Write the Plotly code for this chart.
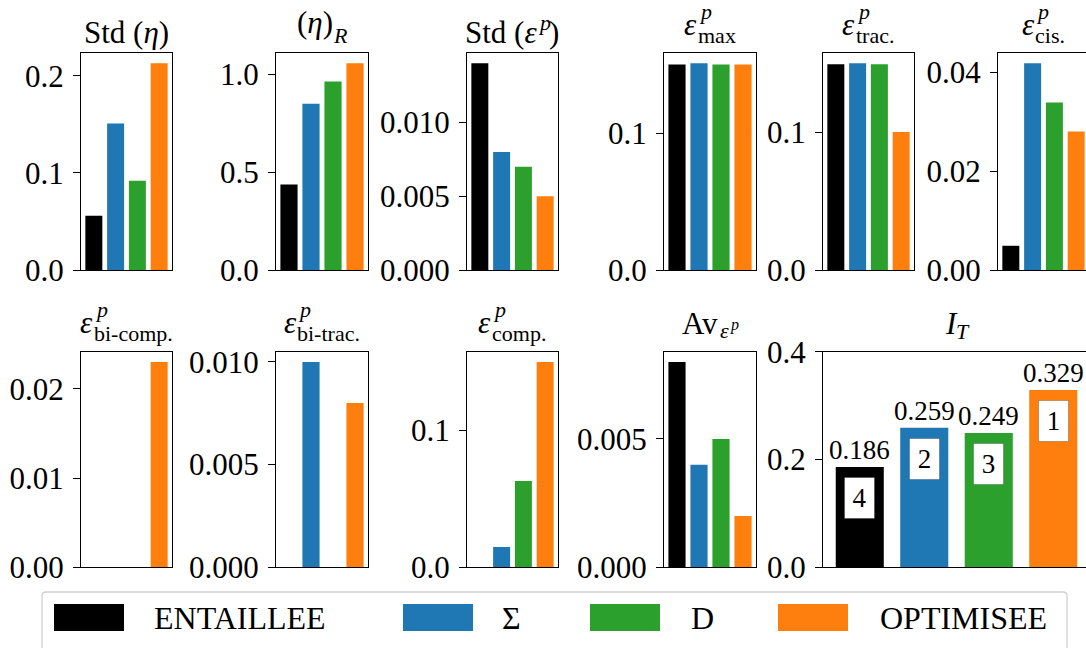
import plotly.graph_objects as go

# ---------------- data ----------------
series = ["ENTAILLEE", "Σ", "D", "OPTIMISEE"]
colors = ["#000000", "#1f77b4", "#2ca02c", "#ff7f0e"]
categories = [0, 1, 2, 3]

std_eta = [0.056, 0.151, 0.092, 0.213]
eta_R = [0.437, 0.849, 0.962, 1.055]
std_eps = [0.0140, 0.0080, 0.0070, 0.0050]
eps_max = [0.1503, 0.1511, 0.1503, 0.1503]
eps_trac = [0.1497, 0.1504, 0.1497, 0.1005]
eps_cis = [0.0049, 0.0418, 0.0339, 0.0280]
eps_bicomp = [0.0, 0.0, 0.0, 0.0230]
eps_bitrac = [0.0, 0.0100, 0.0, 0.0080]
eps_comp = [0.0, 0.0148, 0.0630, 0.1499]
av_eps = [0.0080, 0.0040, 0.0050, 0.0020]
I_T = [0.186, 0.259, 0.249, 0.329]
ranks = [4, 2, 3, 1]

ticks_std_eta = [0.0, 0.1, 0.2]
ticks_eta_R = [0.0, 0.5, 1.0]
ticks_std_eps = [0.0, 0.005, 0.010]
ticks_eps_max = [0.0, 0.1]
ticks_eps_trac = [0.0, 0.1]
ticks_eps_cis = [0.0, 0.02, 0.04]
ticks_eps_bicomp = [0.0, 0.01, 0.02]
ticks_eps_bitrac = [0.0, 0.005, 0.010]
ticks_eps_comp = [0.0, 0.1]
ticks_av_eps = [0.0, 0.005]
ticks_I_T = [0.0, 0.2, 0.4]

# ---------------- layout constants ----------------
W, H = 1086, 648
FONT = "'Liberation Serif', 'Times New Roman', Times, 'DejaVu Serif', serif"
TOP_ROW = (53.0, 270.0)
BOT_ROW = (351.7, 567.3)
COLS = [(81, 172), (276, 368), (467, 558), (664, 756), (823, 914), (998, 1089)]
WIDE = (823, 1090)

CW = {'S': .556, 't': .278, 'd': .5, ' ': .25, '(': .333, ')': .333, 'η': .5, 'ε': .44,
      'p': .5, 'R': .611, 'm': .778, 'a': .444, 'x': .5, 'r': .333, 'c': .444, '.': .25,
      'i': .278, 's': .389, 'b': .5, '-': .333, 'o': .5, 'A': .722, 'v': .5, 'I': .333,
      'T': .556}


def tw(s, size):
    return sum(CW.get(c, .5) for c in s) * size


def seg(html, plain, size, off):
    return ("t", html, plain, size, off)


def stack(sup, sub):
    return ("s", sup, sub)


titles = [
    [seg("Std (<i>η</i>)", "Std (η)", 31, 10)],
    [seg("(<i>η</i>)", "(η)", 31, 20), seg("<i>R</i>", "R", 22, 10)],
    [seg("Std (<i>ε</i>", "Std (ε", 31, 10), seg("<i>p</i>", "p", 22, 23), seg(")", ")", 31, 10)],
    [seg("<i>ε</i>", "ε", 31, 18), stack(seg("<i>p</i>", "p", 22, 34), seg("max", "max", 22, 10))],
    [seg("<i>ε</i>", "ε", 31, 18), stack(seg("<i>p</i>", "p", 22, 34), seg("trac.", "trac.", 22, 10))],
    [seg("<i>ε</i>", "ε", 31, 18), stack(seg("<i>p</i>", "p", 22, 34), seg("cis.", "cis.", 22, 10))],
    [seg("<i>ε</i>", "ε", 31, 18), stack(seg("<i>p</i>", "p", 22, 34), seg("bi-comp.", "bi-comp.", 22, 10))],
    [seg("<i>ε</i>", "ε", 31, 18), stack(seg("<i>p</i>", "p", 22, 34), seg("bi-trac.", "bi-trac.", 22, 10))],
    [seg("<i>ε</i>", "ε", 31, 18), stack(seg("<i>p</i>", "p", 22, 34), seg("comp.", "comp.", 22, 10))],
    [seg("Av", "Av", 31, 17), seg("<i>ε</i>", "ε", 22, 13), seg("<i>p</i>", "p", 16, 21)],
    [seg("<i>I</i>", "I", 31, 17), seg("<i>T</i>", "T", 22, 12)],
]

panels = [
    (std_eta, ticks_std_eta, "{:.1f}", TOP_ROW, COLS[0]),
    (eta_R, ticks_eta_R, "{:.1f}", TOP_ROW, COLS[1]),
    (std_eps, ticks_std_eps, "{:.3f}", TOP_ROW, COLS[2]),
    (eps_max, ticks_eps_max, "{:.1f}", TOP_ROW, COLS[3]),
    (eps_trac, ticks_eps_trac, "{:.1f}", TOP_ROW, COLS[4]),
    (eps_cis, ticks_eps_cis, "{:.2f}", TOP_ROW, COLS[5]),
    (eps_bicomp, ticks_eps_bicomp, "{:.2f}", BOT_ROW, COLS[0]),
    (eps_bitrac, ticks_eps_bitrac, "{:.3f}", BOT_ROW, COLS[1]),
    (eps_comp, ticks_eps_comp, "{:.1f}", BOT_ROW, COLS[2]),
    (av_eps, ticks_av_eps, "{:.3f}", BOT_ROW, COLS[3]),
    (I_T, ticks_I_T, "{:.1f}", BOT_ROW, WIDE),
]

fig = go.Figure()
layout = {}
annotations = []
shapes = []


def add_text(html, x_px, base_px, size, xanchor="left"):
    annotations.append(dict(
        text=html, xref="paper", yref="paper", x=x_px / W,
        y=1 - (base_px + 0.216 * size) / H, xanchor=xanchor, yanchor="bottom",
        showarrow=False, borderpad=0, borderwidth=0,
        font=dict(family=FONT, size=size, color="black")))


for k, (vals, tvals, fmt, (ytop, ybot), (x0, x1)) in enumerate(panels, start=1):
    wide = (x0, x1) == WIDE
    xa = "x" if k == 1 else f"x{k}"
    ya = "y" if k == 1 else f"y{k}"
    bw = 0.745 if wide else 0.78
    lo, hi = (-0.57, 3.57) if wide else (-0.59, 3.59)
    xe = min(x1, W)
    hi_eff = lo + (hi - lo) * (xe - x0) / (x1 - x0)
    ymax = 0.4 if wide else max(vals) * 1.05
    fig.add_trace(go.Bar(x=categories, y=vals, width=bw, marker=dict(color=colors, line=dict(width=0)),
                         xaxis=xa, yaxis=ya, showlegend=False, hoverinfo="skip"))
    suffix = "" if k == 1 else str(k)
    layout["xaxis" + suffix] = dict(
        domain=[x0 / W, xe / W], range=[lo, hi_eff], anchor=ya, showticklabels=False,
        ticks="", showgrid=False, zeroline=False, showline=True, mirror=True,
        linecolor="black", linewidth=1.3, fixedrange=True, automargin=False)
    layout["yaxis" + suffix] = dict(
        domain=[1 - ybot / H, 1 - ytop / H], range=[0, ymax], anchor=xa,
        tickvals=tvals, ticktext=[fmt.format(v) for v in tvals], ticks="outside",
        ticklen=7, tickwidth=1.3, tickcolor="black", showgrid=False, zeroline=False,
        showline=True, mirror=True, linecolor="black", linewidth=1.3,
        tickfont=dict(family=FONT, size=31, color="black"), ticklabelstandoff=3,
        fixedrange=True, automargin=False)

    # title
    items = titles[k - 1]
    total = 0
    for it in items:
        if it[0] == "t":
            total += tw(it[2], it[3])
        else:
            total += max(tw(it[1][2], it[1][3]), tw(it[2][2], it[2][3]))
    cx = (x0 + x1) / 2
    xcur = cx - total / 2
    for it in items:
        if it[0] == "t":
            _, html, plain, size, off = it
            add_text(html, xcur, ytop - off, size)
            xcur += tw(plain, size)
        else:
            _, sup, sub = it
            add_text(sup[1], xcur + 1, ytop - sup[4], sup[3])
            add_text(sub[1], xcur, ytop - sub[4], sub[3])
            xcur += max(tw(sup[2], sup[3]), tw(sub[2], sub[3]))

    if wide:
        for i, v in enumerate(vals):
            annotations.append(dict(
                text=f"{v:.3f}", xref=xa, yref=ya, x=categories[i], y=v,
                xanchor="center", yanchor="bottom", showarrow=False, yshift=0,
                font=dict(family=FONT, size=27, color="black")))
            annotations.append(dict(
                text=str(ranks[i]), xref=xa, yref=ya, x=categories[i], y=v,
                xanchor="center", yanchor="middle", showarrow=False, yshift=-31,
                width=29, height=40, bgcolor="white", bordercolor="rgba(0,0,0,0.25)",
                borderwidth=1, borderpad=0,
                font=dict(family=FONT, size=27, color="black")))

# ---------------- legend (drawn) ----------------
LEG_BOX = (42, 592, 1067, 662)
LEG_SWATCH_X = [54, 403, 590, 778]
LEG_TEXT_X = [152, 500, 689, 878]
SW_W, SW_Y0, SW_Y1 = 70, 604, 631


def px(x):
    return x / W


def py(y):
    return 1 - y / H


bx0, by0, bx1, by1 = LEG_BOX
r = 4
path = (f"M {px(bx0 + r)},{py(by0)} L {px(bx1 - r)},{py(by0)} Q {px(bx1)},{py(by0)} {px(bx1)},{py(by0 + r)} "
        f"L {px(bx1)},{py(by1)} L {px(bx0)},{py(by1)} L {px(bx0)},{py(by0 + r)} "
        f"Q {px(bx0)},{py(by0)} {px(bx0 + r)},{py(by0)} Z")
shapes.append(dict(type="path", path=path, xref="paper", yref="paper",
                   line=dict(color="#d0d0d0", width=1.3), fillcolor="white"))
for name, col, sx, tx in zip(series, colors, LEG_SWATCH_X, LEG_TEXT_X):
    shapes.append(dict(type="rect", xref="paper", yref="paper", x0=px(sx), x1=px(sx + SW_W),
                       y0=py(SW_Y1), y1=py(SW_Y0), fillcolor=col, line=dict(width=0)))
    annotations.append(dict(text=name, xref="paper", yref="paper", x=px(tx), y=py((SW_Y0 + SW_Y1) / 2),
                            xanchor="left", yanchor="middle", showarrow=False,
                            font=dict(family=FONT, size=32, color="black")))

fig.update_layout(template="none")
fig.update_layout(**layout)
fig.update_layout(width=W, height=H, margin=dict(l=0, r=0, t=0, b=0, pad=0, autoexpand=False),
                  paper_bgcolor="white", plot_bgcolor="white", showlegend=False,
                  annotations=annotations, shapes=shapes,
                  font=dict(family=FONT, color="black"))

fig.write_html("out.html", config={"displayModeBar": False},
               post_script="document.body.style.margin='0';document.body.style.overflow='hidden';")
